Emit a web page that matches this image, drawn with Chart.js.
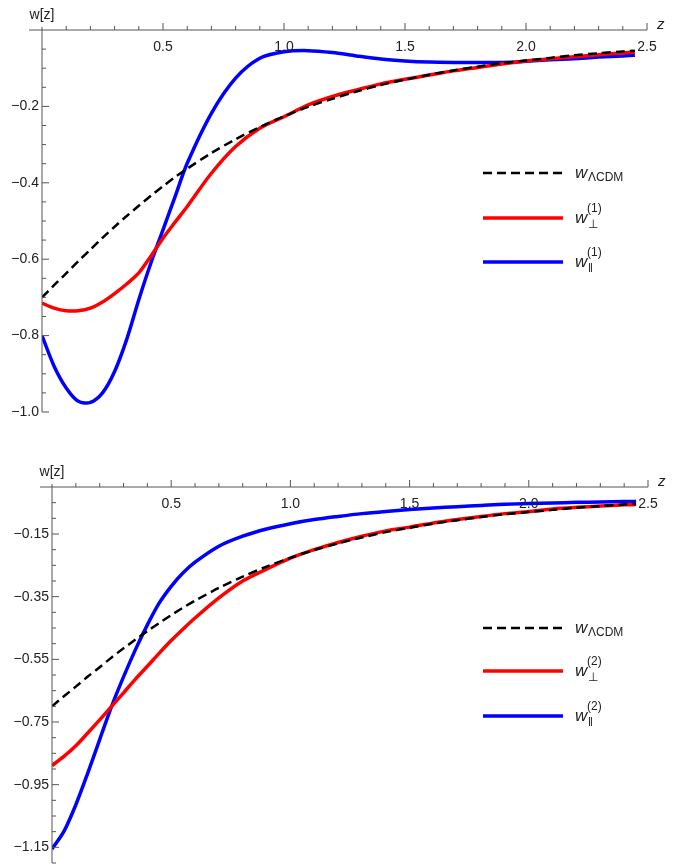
<!DOCTYPE html>
<html>
<head>
<meta charset="utf-8">
<script src="https://cdn.jsdelivr.net/npm/chart.js@4"></script>
<style>
  body { margin: 0; background: #fff; }
  .box { position: relative; width: 674px; }
</style>
</head>
<body>
<div class="box" style="height:440px"><canvas id="top"></canvas></div>
<div class="box" style="height:425px"><canvas id="bottom"></canvas></div>
<script>
// ===== DADOS =====
const zValues = [0, 0.05, 0.1, 0.15, 0.2, 0.25, 0.3, 0.35, 0.4, 0.45, 0.5, 0.55, 0.6,
  0.7, 0.8, 0.9, 1.0, 1.1, 1.2, 1.3, 1.4, 1.5, 1.6, 1.7, 1.8, 1.9, 2.0, 2.1, 2.2, 2.3, 2.4, 2.45];

const wLCDM = [-0.700, -0.668, -0.637, -0.605, -0.575, -0.544, -0.515, -0.487, -0.460, -0.434, -0.409, -0.385, -0.363,
  -0.322, -0.286, -0.254, -0.226, -0.201, -0.180, -0.161, -0.144, -0.130, -0.117, -0.106, -0.096, -0.087, -0.080,
  -0.073, -0.066, -0.061, -0.056, -0.054];

const wPerp1 = [-0.715, -0.728, -0.735, -0.735, -0.728, -0.712, -0.690, -0.665, -0.636, -0.592, -0.545, -0.503, -0.462,
  -0.375, -0.305, -0.257, -0.227, -0.196, -0.174, -0.157, -0.141, -0.129, -0.118, -0.107, -0.098, -0.089, -0.081,
  -0.075, -0.070, -0.065, -0.060, -0.058];

const wPar1 = [-0.800, -0.880, -0.937, -0.972, -0.975, -0.950, -0.894, -0.810, -0.706, -0.610, -0.523, -0.436, -0.349,
  -0.218, -0.126, -0.074, -0.057, -0.054, -0.059, -0.068, -0.076, -0.081, -0.084, -0.085, -0.085, -0.085, -0.082,
  -0.078, -0.075, -0.071, -0.068, -0.066];

const wPerp2 = [-0.889, -0.860, -0.826, -0.785, -0.743, -0.700, -0.657, -0.613, -0.572, -0.530, -0.490, -0.453, -0.418,
  -0.354, -0.300, -0.262, -0.227, -0.200, -0.177, -0.157, -0.140, -0.128, -0.115, -0.104, -0.094, -0.085, -0.078,
  -0.070, -0.065, -0.061, -0.057, -0.056];

const wPar2 = [-1.155, -1.099, -1.014, -0.913, -0.806, -0.700, -0.606, -0.519, -0.440, -0.370, -0.317, -0.274, -0.240,
  -0.189, -0.157, -0.134, -0.117, -0.104, -0.094, -0.085, -0.078, -0.072, -0.067, -0.063, -0.059, -0.055, -0.053,
  -0.051, -0.049, -0.048, -0.046, -0.046];

const xTickLabels = [0.5, 1.0, 1.5, 2.0, 2.5];
const yTicksTop = [-0.2, -0.4, -0.6, -0.8, -1.0];
const yTicksBottom = [-0.15, -0.35, -0.55, -0.75, -0.95, -1.15];

const FONT = '"Liberation Sans", Arial, sans-serif';

function pts(vals) {
  return vals.map((v, i) => ({ x: zValues[i], y: v }));
}

// ===== EIXOS E LEGENDA DESENHADOS À MÃO (estilo Mathematica) =====
function eixosPlugin(cfg) {
  return {
    id: "eixos",
    afterDatasetsDraw(chart) {
      const { ctx, chartArea, scales } = chart;
      const xs = scales.x, ys = scales.y;
      const y0 = ys.getPixelForValue(0);
      const x0 = xs.getPixelForValue(0);
      ctx.save();
      ctx.strokeStyle = "#555";
      ctx.fillStyle = "#222";
      ctx.lineWidth = 1;

      // eixo x
      ctx.beginPath();
      ctx.moveTo(x0 - cfg.xAxisExtra, y0);
      ctx.lineTo(xs.getPixelForValue(2.5), y0);
      ctx.stroke();
      for (let k = 1; k <= 25; k++) {
        const px = xs.getPixelForValue(k / 10);
        const len = k % 5 === 0 ? 7 : 4;
        ctx.beginPath();
        ctx.moveTo(px, y0);
        ctx.lineTo(px, y0 - len);
        ctx.stroke();
      }
      ctx.font = "14px " + FONT;
      ctx.textAlign = "center";
      ctx.textBaseline = "top";
      xTickLabels.forEach(v => ctx.fillText(v.toFixed(1), xs.getPixelForValue(v), y0 + 10));

      // eixo y
      ctx.beginPath();
      ctx.moveTo(x0, y0 - 3);
      ctx.lineTo(x0, chartArea.bottom);
      ctx.stroke();
      for (let v = -0.05; v >= ys.min - 1e-9; v -= 0.05) {
        const py = ys.getPixelForValue(v);
        const major = cfg.yTicks.some(t => Math.abs(t - v) < 1e-6);
        ctx.beginPath();
        ctx.moveTo(x0, py);
        ctx.lineTo(x0 + (major ? 7 : 4), py);
        ctx.stroke();
      }
      ctx.textAlign = "right";
      ctx.textBaseline = "middle";
      cfg.yTicks.forEach(v => {
        const txt = "\u2212" + Math.abs(v).toFixed(cfg.dec);
        ctx.fillText(txt, x0 - 3, ys.getPixelForValue(v));
      });

      // rótulos dos eixos
      ctx.textAlign = "center";
      ctx.textBaseline = "bottom";
      ctx.fillText("w[z]", x0, y0 - 8);
      ctx.font = "italic 15px " + FONT;
      ctx.textAlign = "left";
      ctx.fillText("z", xs.getPixelForValue(2.5) + 10, y0 + 2);

      // legenda
      const lx1 = 483, lx2 = 563, tx = 575;
      cfg.legendY.forEach((ly, i) => {
        ctx.beginPath();
        ctx.setLineDash(i === 0 ? [9, 5] : []);
        ctx.lineWidth = i === 0 ? 2.5 : 3.5;
        ctx.strokeStyle = ["#000", "#ff0000", "#0000ff"][i];
        ctx.moveTo(lx1, ly);
        ctx.lineTo(lx2, ly);
        ctx.stroke();
        ctx.setLineDash([]);
        ctx.fillStyle = "#222";
        ctx.textBaseline = "middle";
        ctx.font = "italic 17px " + FONT;
        ctx.fillText("w", tx, ly);
        ctx.font = "12px " + FONT;
        if (i === 0) {
          ctx.fillText("\u039BCDM", tx + 13, ly + 5);
        } else {
          ctx.fillText("(" + cfg.order + ")", tx + 12, ly - 9);
          ctx.fillText(i === 1 ? "\u22A5" : "\u2016", tx + 13, ly + 7);
        }
      });
      ctx.restore();
    }
  };
}

function criaGrafico(id, series, cfg) {
  const cores = ["#000000", "#ff0000", "#0000ff"];
  new Chart(document.getElementById(id), {
    type: "line",
    data: {
      datasets: series.map((s, i) => ({
        data: pts(s),
        borderColor: cores[i],
        borderWidth: i === 0 ? 2.5 : 3.5,
        borderDash: i === 0 ? [9, 5] : [],
        pointRadius: 0,
        tension: 0.3,
        fill: false
      }))
    },
    options: {
      responsive: true,
      maintainAspectRatio: false,
      animation: false,
      layout: { padding: cfg.padding },
      plugins: { legend: { display: false }, tooltip: { enabled: false } },
      scales: {
        x: { type: "linear", min: 0, max: 2.5, display: false },
        y: { type: "linear", min: cfg.yMin, max: 0, display: false }
      }
    },
    plugins: [eixosPlugin(cfg)]
  });
}

criaGrafico("top", [wLCDM, wPerp1, wPar1], {
  padding: { left: 42, right: 27, top: 30, bottom: 28 },
  yMin: -1.0, yTicks: yTicksTop, dec: 1, order: 1, xAxisExtra: 13,
  legendY: [173, 218, 262]
});

criaGrafico("bottom", [wLCDM, wPerp2, wPar2], {
  padding: { left: 52, right: 26, top: 47, bottom: 2 },
  yMin: -1.2, yTicks: yTicksBottom, dec: 2, order: 2, xAxisExtra: 12,
  legendY: [188, 231, 276]
});
</script>
</body>
</html>
